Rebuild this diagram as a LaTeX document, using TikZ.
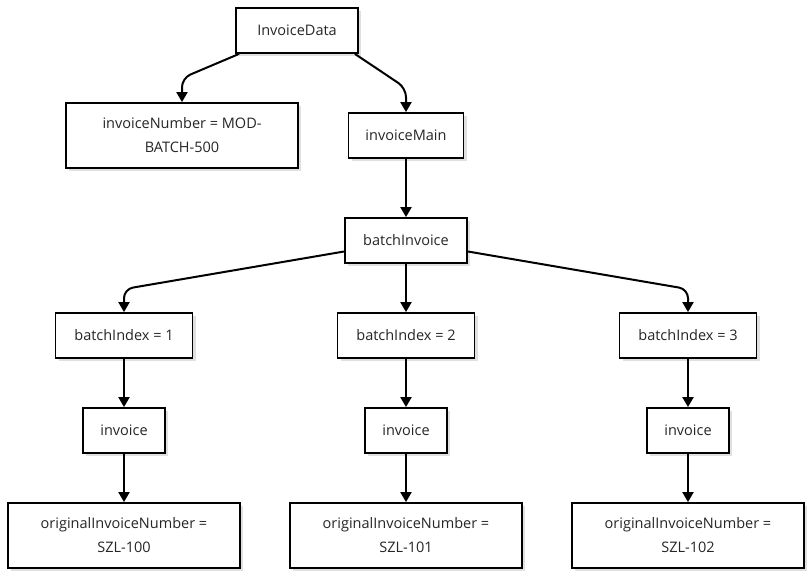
\documentclass[tikz,border=0pt]{standalone}
\usepackage{fontspec}
\setmainfont{Open Sans}
\usetikzlibrary{arrows.meta,shadows}
\begin{document}
\begin{tikzpicture}[x=1pt,y=-1pt,
  box/.style={draw=black, line width=1.8pt, fill=white, align=center, inner sep=0pt,
    text=black!85, font=\fontsize{14.5}{24}\selectfont,
    drop shadow={opacity=0.12, shadow xshift=3pt, shadow yshift=-3pt, fill=black}},
  arr/.style={line width=2pt, -{Triangle[length=10pt,width=11pt]}, rounded corners=9pt}]
\useasboundingbox (0,0) rectangle (812,578);
\node[box, minimum width=122pt, minimum height=45pt] (ID) at (297,30.5) {InvoiceData};
\node[box, minimum width=232pt, minimum height=65pt] (IN) at (182,135.5) {invoiceNumber = MOD-\\BATCH-500};
\node[box, minimum width=115pt, minimum height=45pt] (IM) at (406,135.5) {invoiceMain};
\node[box, minimum width=122pt, minimum height=45pt] (BI) at (406,240.5) {batchInvoice};
\node[box, minimum width=137pt, minimum height=45pt] (X1) at (124,335.5) {batchIndex = 1};
\node[box, minimum width=137pt, minimum height=45pt] (X2) at (406,335.5) {batchIndex = 2};
\node[box, minimum width=137pt, minimum height=45pt] (X3) at (688,335.5) {batchIndex = 3};
\node[box, minimum width=82pt, minimum height=45pt] (V1) at (124,430.5) {invoice};
\node[box, minimum width=82pt, minimum height=45pt] (V2) at (406,430.5) {invoice};
\node[box, minimum width=82pt, minimum height=45pt] (V3) at (688,430.5) {invoice};
\node[box, minimum width=232pt, minimum height=65pt] (O1) at (124,535.5) {originalInvoiceNumber =\\SZL-100};
\node[box, minimum width=232pt, minimum height=65pt] (O2) at (406,535.5) {originalInvoiceNumber =\\SZL-101};
\node[box, minimum width=232pt, minimum height=65pt] (O3) at (688,535.5) {originalInvoiceNumber =\\SZL-102};
\draw[arr] ([xshift=4pt]ID.south west) -- ([yshift=24pt]IN.north) -- (IN.north);
\draw[arr] ([xshift=-4pt]ID.south east) -- ([yshift=24pt]IM.north) -- (IM.north);
\draw[arr] (IM) -- (BI);
\draw[arr] ([yshift=-11pt]BI.west) -- ([yshift=23pt]X1.north) -- (X1.north);
\draw[arr] (BI) -- (X2);
\draw[arr] ([yshift=-11pt]BI.east) -- ([yshift=23pt]X3.north) -- (X3.north);
\draw[arr] (X1) -- (V1);
\draw[arr] (X2) -- (V2);
\draw[arr] (X3) -- (V3);
\draw[arr] (V1) -- (O1);
\draw[arr] (V2) -- (O2);
\draw[arr] (V3) -- (O3);
\end{tikzpicture}
\end{document}
